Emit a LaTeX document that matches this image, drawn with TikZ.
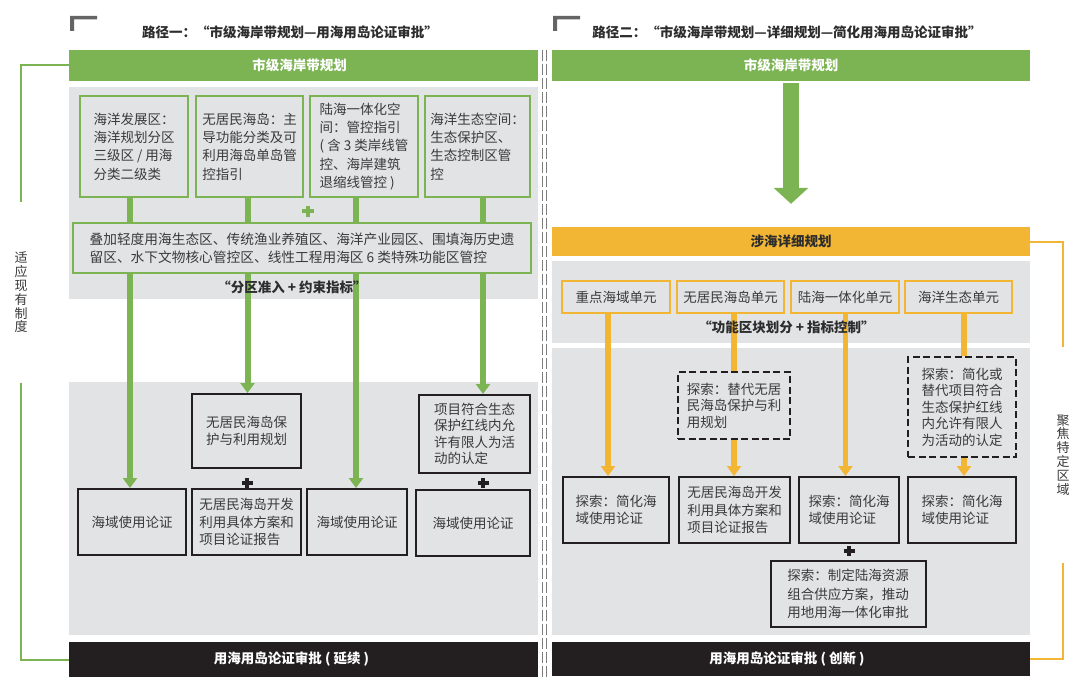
\documentclass[tikz,border=0pt]{standalone}
\usepackage{fontspec}
\setmainfont{Noto Sans CJK SC}[AutoFakeSlant=0.22]
\usetikzlibrary{arrows.meta}
\definecolor{G}{RGB}{124,179,83}
\definecolor{OR}{RGB}{243,181,52}
\definecolor{PN}{RGB}{226,227,229}
\definecolor{KB}{RGB}{35,31,32}
\definecolor{TX}{RGB}{58,58,58}
\definecolor{TT}{RGB}{45,45,45}
\definecolor{CM}{RGB}{100,100,100}
\definecolor{DV}{RGB}{125,125,125}
\pgfdeclarelayer{panel}\pgfdeclarelayer{lines}\pgfsetlayers{panel,lines,main}
\newcommand\myfA{\fontsize{13.5bp}{18.3bp}\selectfont}
\newcommand\myfW{\fontsize{13.7bp}{18.3bp}\selectfont}
\newcommand\myfB{\fontsize{13.5bp}{16.5bp}\selectfont}
\newcommand\myfC{\fontsize{13.5bp}{17.7bp}\selectfont}
\newcommand\myfT{\fontsize{13.5bp}{16bp}\selectfont\bfseries}
\newcommand\myfI{\fontsize{13.5bp}{15bp}\selectfont\bfseries\itshape}
\newcommand\myfV{\fontsize{13bp}{13.8bp}\selectfont}
\tikzset{
  txt/.style={font=\myfA, text=TX, align=left},
  gbox/.style={draw=G, line width=2bp, fill=PN, inner sep=0pt, txt},
  kbox/.style={draw=KB, line width=2bp, fill=PN, inner sep=0pt, txt},
  dbox/.style={kbox, dash pattern=on 7bp off 3.5bp},
  obox/.style={draw=OR, line width=2bp, fill=PN, inner sep=0pt, txt, align=center, minimum height=32bp},
  bar/.style={inner sep=0pt, font=\myfT},
  ttl/.style={font=\myfT, text=TT},
  ital/.style={font=\myfI, text=TT},
  vtext/.style={font=\myfV, text=TX, align=center, inner sep=0pt},
  garrow/.style={draw=G, line width=6bp, -{Triangle[width=14bp,length=10bp]}},
  gline/.style={draw=G, line width=6bp},
  oarrow/.style={draw=OR, line width=5.5bp, -{Triangle[width=14bp,length=10bp]}},
  oline/.style={draw=OR, line width=5.5bp},
  gbr/.style={draw=G, line width=2bp},
  obr/.style={draw=OR, line width=2bp},
  divline/.style={draw=DV, line width=1.3bp, dash pattern=on 11bp off 3bp},
  plusk/.style={draw=KB, line width=3.5bp},
  plusg/.style={draw=G, line width=3.5bp},
}
\begin{document}
\begin{tikzpicture}[x=1bp,y=-1bp]
\path[use as bounding box] (0,0) rectangle (1080,687);

% background and panels
\begin{pgfonlayer}{panel}
\fill[white] (0,0) rectangle (1080,687);
\fill[PN] (69,87) rectangle (538,299);
\fill[PN] (69,382) rectangle (538,635);
\fill[PN] (552,261) rectangle (1030,343);
\fill[PN] (552,348) rectangle (1030,635);
\end{pgfonlayer}

% corner marks
\fill[CM] (70,16) -- (97,16) -- (97,19.5) -- (74,19.5) -- (74,31) -- (70,31) -- cycle;
\fill[CM] (553,16) -- (580,16) -- (580,19.5) -- (557,19.5) -- (557,31) -- (553,31) -- cycle;

% divider
\draw[divline] (542.5,50) -- (542.5,677);
\draw[divline] (546.5,50) -- (546.5,677);

% titles
\node[ttl] (t1) at (290,32) {路径一：“市级海岸带规划—用海用岛论证审批”};
\node[ttl] (t2) at (787,32) {路径二：“市级海岸带规划—详细规划—简化用海用岛论证审批”};

% bars
\node[bar, fill=G, text=white, minimum width=469bp, minimum height=31bp] (gb1) at (303.5,65.5) {\hspace*{-8bp}市级海岸带规划};
\node[bar, fill=KB, text=white, minimum width=469bp, minimum height=35bp] (kb1) at (303.5,659.5) {\hspace*{-24bp}用海用岛论证审批 ( 延续 )};
\node[bar, fill=G, text=white, minimum width=478bp, minimum height=31bp] (gb2) at (791,65.5) {市级海岸带规划};
\node[bar, fill=OR, text=TT, minimum width=478bp, minimum height=29bp] (ob) at (791,241.5) {涉海详细规划};
\node[bar, fill=KB, text=white, minimum width=478bp, minimum height=34bp] (kb2) at (791,659) {\hspace*{-8bp}用海用岛论证审批 ( 创新 )};

% left top boxes
\node[gbox, minimum width=108bp, minimum height=101bp] (b1) at (134,146.5) {海洋发展区：\\海洋规划分区\\三级区 / 用海\\分类二级类};
\node[gbox, minimum width=107bp, minimum height=101bp] (b2) at (249.5,146.5) {无居民海岛：主\\导功能分类及可\\利用海岛单岛管\\控指引};
\node[gbox, minimum width=108bp, minimum height=101bp] (b3) at (364,146.5) {陆海一体化空\\间：管控指引\\( 含 3 类岸线管\\控、海岸建筑\\退缩线管控 )};
\node[gbox, minimum width=105bp, minimum height=101bp] (b4) at (477.5,146.5) {海洋生态空间：\\生态保护区、\\生态控制区管\\控};
\node[gbox, font=\myfW, minimum width=458bp, minimum height=50bp] (wb) at (302,248) {叠加轻度用海生态区、传统渔业养殖区、海洋产业园区、围填海历史遗\\留区、水下文物核心管控区、线性工程用海区 6 类特殊功能区管控};
\node[ital] (i1) at (292,287) {“分区准入 + 约束指标”};

% left lower boxes
\node[kbox, font=\myfB, minimum width=109bp, minimum height=74bp] (p2) at (246.5,431) {无居民海岛保\\护与利用规划};
\node[kbox, font=\myfB, minimum width=111bp, minimum height=78bp] (p4) at (474.5,434) {项目符合生态\\保护红线内允\\许有限人为活\\动的认定};
\node[kbox, minimum width=108bp, minimum height=66bp] (h1) at (132,522) {海域使用论证};
\node[kbox, font=\myfC, minimum width=109bp, minimum height=66bp] (h2) at (246.5,522) {无居民海岛开发\\利用具体方案和\\项目论证报告};
\node[kbox, minimum width=100bp, minimum height=66bp] (h3) at (357,522) {海域使用论证};
\node[kbox, minimum width=114bp, minimum height=66bp] (h4) at (473,523) {海域使用论证};

% right boxes
\node[obox, minimum width=108bp] (o1) at (616,297) {重点海域单元};
\node[obox, minimum width=107bp] (o2) at (730.5,297) {无居民海岛单元};
\node[obox, minimum width=108bp] (o3) at (845,297) {陆海一体化单元};
\node[obox, minimum width=107bp] (o4) at (958.5,297) {海洋生态单元};
\node[ital] (i2) at (786.5,327) {“功能区块划分 + 指标控制”};
\node[dbox, font=\myfB, minimum width=112bp, minimum height=67bp] (d2) at (734,405.5) {探索：替代无居\\民海岛保护与利\\用规划};
\node[dbox, font=\myfB, minimum width=108bp, minimum height=100bp] (d4) at (962,407) {探索：简化或\\替代项目符合\\生态保护红线\\内允许有限人\\为活动的认定};
\node[kbox, font=\myfC, minimum width=106bp, minimum height=66bp] (s1) at (616,510) {探索：简化海\\域使用论证};
\node[kbox, font=\myfC, minimum width=111bp, minimum height=66bp] (s2) at (734.5,510) {无居民海岛开发\\利用具体方案和\\项目论证报告};
\node[kbox, font=\myfC, minimum width=100bp, minimum height=66bp] (s3) at (849,510) {探索：简化海\\域使用论证};
\node[kbox, font=\myfC, minimum width=108bp, minimum height=66bp] (s4) at (962,510) {探索：简化海\\域使用论证};
\node[kbox, minimum width=155bp, minimum height=66bp] (m3) at (848,594) {探索：制定陆海资源\\组合供应方案，推动\\用地用海一体化审批};

% side labels
\node[vtext] (lt) at (21,292.5) {适\\应\\现\\有\\制\\度};
\node[vtext] (rt) at (1063,455) {聚\\焦\\特\\定\\区\\域};

% x positions of connectors
\coordinate (xa1) at (130,0);
\coordinate (xa2) at (247.5,0);
\coordinate (xa3) at (356,0);
\coordinate (xa4) at (483,0);
\coordinate (xo1) at (608,0);
\coordinate (xo2) at (734,0);
\coordinate (xo3) at (845.5,0);
\coordinate (xo4) at (964,0);

\begin{pgfonlayer}{lines}
\draw[garrow] (b1.south -| xa1) -- (h1.north -| xa1);
\draw[garrow] (b2.south -| xa2) -- (p2.north -| xa2);
\draw[garrow] (b3.south -| xa3) -- (h3.north -| xa3);
\draw[garrow] (b4.south -| xa4) -- (p4.north -| xa4);
\draw[oarrow] (o1.south -| xo1) -- (s1.north -| xo1);
\draw[oline] (o2.south -| xo2) -- (d2.north -| xo2);
\draw[oarrow] (d2.south -| xo2) -- (s2.north -| xo2);
\draw[oarrow] (o3.south -| xo3) -- (s3.north -| xo3);
\draw[oline] (o4.south -| xo4) -- (d4.north -| xo4);
\draw[oarrow] (d4.south -| xo4) -- (s4.north -| xo4);
\draw[G, line width=16bp, -{Triangle[width=34bp,length=16bp]}, shorten <=2bp, shorten >=23bp] (gb2.south) -- (ob.north);
% brackets
\draw[gbr] (gb1.west) -| ([yshift=90.5bp]lt.center);
\draw[gbr] ([yshift=-90.5bp]lt.center) |- (kb1.west);
\draw[obr] (ob.east) -| ([yshift=108bp]rt.center);
\draw[obr] ([yshift=-108bp]rt.center) |- (kb2.east);
\end{pgfonlayer}

% plus signs
\draw[plusg] (308,211) +(-6,0) -- +(6,0) +(0,-5.5) -- +(0,5.5);
\draw[plusk] (247,483) +(-5.5,0) -- +(5.5,0) +(0,-5) -- +(0,5);
\draw[plusk] (483,483) +(-5.5,0) -- +(5.5,0) +(0,-5) -- +(0,5);
\draw[plusk] (849,551) +(-5.5,0) -- +(5.5,0) +(0,-5) -- +(0,5);
\end{tikzpicture}
\end{document}
